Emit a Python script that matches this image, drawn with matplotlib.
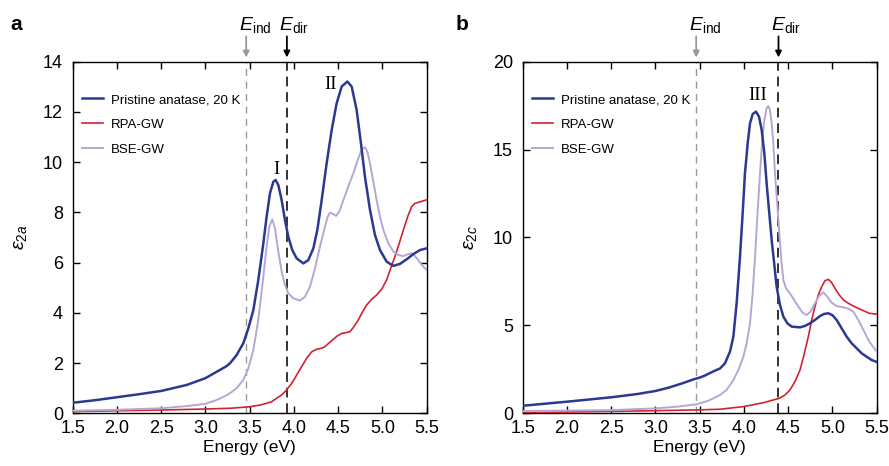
import matplotlib
matplotlib.use('Agg')
import matplotlib.pyplot as plt
import numpy as np

plt.rcParams['font.family'] = ['Liberation Sans', 'DejaVu Sans']
plt.rcParams['mathtext.fontset'] = 'custom'
plt.rcParams['mathtext.rm'] = 'Liberation Sans'
plt.rcParams['mathtext.it'] = 'Liberation Sans:italic'

# ---- panel a: eps_2a ----
a_pri_e = [1.5, 1.75, 2.0, 2.25, 2.5, 2.79, 3.0, 3.1, 3.23, 3.277, 3.352, 3.428, 3.484,
           3.541, 3.597, 3.654, 3.691, 3.729, 3.767, 3.793, 3.823, 3.861, 3.898, 3.936,
           3.981, 4.030, 4.106, 4.162, 4.219, 4.264, 4.313, 4.369, 4.426, 4.482, 4.539,
           4.603, 4.652, 4.708, 4.757, 4.802, 4.859, 4.915, 4.972, 5.047, 5.123, 5.198,
           5.273, 5.349, 5.424, 5.5]
a_pri_v = [0.42, 0.52, 0.64, 0.76, 0.89, 1.13, 1.40, 1.60, 1.86, 1.99, 2.32, 2.79, 3.38,
           4.11, 5.31, 6.77, 7.83, 8.76, 9.22, 9.29, 9.09, 8.49, 7.70, 7.03,
           6.50, 6.17, 5.97, 6.10, 6.57, 7.30, 8.49, 9.95, 11.28, 12.34, 13.01,
           13.21, 13.01, 12.08, 10.75, 9.42, 8.10, 7.10, 6.50, 6.04, 5.87, 5.95,
           6.13, 6.34, 6.50, 6.57]

a_rpa_e = [1.5, 2.5, 3.0, 3.277, 3.503, 3.616, 3.691, 3.748, 3.804, 3.861, 3.917, 3.974,
           4.030, 4.087, 4.143, 4.200, 4.256, 4.313, 4.350, 4.399, 4.445, 4.490, 4.539,
           4.588, 4.633, 4.678, 4.727, 4.772, 4.821, 4.878, 4.934, 4.991, 5.047, 5.092,
           5.141, 5.190, 5.236, 5.285, 5.330, 5.367, 5.424, 5.5]
a_rpa_v = [0.07, 0.13, 0.17, 0.20, 0.26, 0.33, 0.40, 0.46, 0.60, 0.73, 0.93, 1.19,
           1.52, 1.86, 2.19, 2.45, 2.55, 2.59, 2.65, 2.81, 2.95, 3.08, 3.18,
           3.21, 3.25, 3.45, 3.72, 4.02, 4.31, 4.54, 4.71, 4.94, 5.31, 5.77,
           6.24, 6.77, 7.30, 7.83, 8.23, 8.36, 8.42, 8.5]

a_bse_e = [1.5, 2.0, 2.5, 2.8, 3.0, 3.12, 3.23, 3.277, 3.352, 3.428, 3.484, 3.541, 3.597,
           3.654, 3.691, 3.721, 3.755, 3.785, 3.823, 3.861, 3.898, 3.936, 3.993, 4.068,
           4.124, 4.181, 4.237, 4.294, 4.350, 4.381, 4.407, 4.445, 4.475, 4.512, 4.558,
           4.614, 4.671, 4.727, 4.765, 4.802, 4.829, 4.859, 4.897, 4.934, 4.972, 5.010,
           5.066, 5.123, 5.179, 5.236, 5.292, 5.330, 5.367, 5.405, 5.443, 5.5]
a_bse_v = [0.1, 0.14, 0.2, 0.29, 0.38, 0.52, 0.70, 0.80, 1.00, 1.33, 1.79, 2.52, 3.72,
           5.44, 6.64, 7.43, 7.72, 7.37, 6.44, 5.64, 5.11, 4.78, 4.58, 4.49,
           4.64, 5.04, 5.77, 6.64, 7.43, 7.83, 7.99, 7.94, 7.86, 8.03, 8.49,
           9.03, 9.56, 10.15, 10.51, 10.59, 10.42, 9.95, 9.22, 8.49, 7.83, 7.30,
           6.77, 6.44, 6.30, 6.26, 6.34, 6.37, 6.26, 6.10, 5.91, 5.70]

# ---- panel b: eps_2c ----
b_pri_e = [1.5, 2.0, 2.5, 2.8, 3.0, 3.15, 3.3, 3.43, 3.5, 3.56, 3.62, 3.67, 3.729, 3.785,
           3.842, 3.880, 3.917, 3.955, 3.985, 4.011, 4.042, 4.068, 4.098, 4.136, 4.170,
           4.200, 4.230, 4.256, 4.286, 4.313, 4.343, 4.369, 4.407, 4.445, 4.490, 4.539,
           4.633, 4.689, 4.746, 4.802, 4.859, 4.904, 4.953, 5.002, 5.047, 5.104, 5.160,
           5.217, 5.273, 5.330, 5.386, 5.443, 5.5]
b_pri_v = [0.43, 0.66, 0.91, 1.10, 1.27, 1.46, 1.70, 1.93, 2.03, 2.15, 2.30, 2.42, 2.55,
           2.84, 3.51, 4.36, 6.26, 8.91, 11.37, 13.65, 15.36, 16.49, 17.02, 17.16, 16.87,
           16.12, 14.79, 13.08, 11.37, 9.86, 8.44, 7.20, 6.16, 5.50, 5.12, 4.93,
           4.89, 4.97, 5.12, 5.31, 5.53, 5.65, 5.69, 5.57, 5.31, 4.83, 4.36,
           3.98, 3.70, 3.41, 3.22, 3.03, 2.92]

b_rpa_e = [1.5, 3.0, 3.46, 3.729, 3.993, 4.219, 4.332, 4.399, 4.463, 4.520, 4.576, 4.633,
           4.678, 4.727, 4.765, 4.802, 4.840, 4.878, 4.915, 4.953, 4.991, 5.028, 5.077,
           5.123, 5.179, 5.236, 5.292, 5.349, 5.416, 5.5]
b_rpa_v = [0.03, 0.15, 0.19, 0.23, 0.38, 0.60, 0.76, 0.85, 1.04, 1.33, 1.80, 2.46,
           3.32, 4.36, 5.31, 6.07, 6.73, 7.20, 7.54, 7.62, 7.43, 7.11, 6.73,
           6.45, 6.26, 6.10, 5.97, 5.84, 5.69, 5.64]

b_bse_e = [1.5, 2.5, 3.0, 3.25, 3.46, 3.6, 3.729, 3.804, 3.880, 3.936, 3.993, 4.030, 4.068,
           4.098, 4.125, 4.151, 4.181, 4.207, 4.230, 4.256, 4.275, 4.294, 4.313, 4.332,
           4.350, 4.377, 4.399, 4.422, 4.445, 4.475, 4.520, 4.565, 4.614, 4.663, 4.708,
           4.753, 4.802, 4.848, 4.897, 4.942, 4.991, 5.047, 5.123, 5.179, 5.236, 5.292,
           5.349, 5.416, 5.5]
b_bse_v = [0.13, 0.18, 0.28, 0.38, 0.51, 0.72, 1.04, 1.33, 1.89, 2.46, 3.22, 3.98, 5.12,
           6.82, 8.91, 11.19, 13.65, 15.55, 16.68, 17.35, 17.48, 17.25, 16.49, 15.36,
           13.65, 11.85, 10.24, 8.72, 7.58, 7.11, 6.82, 6.45, 6.07, 5.72, 5.59,
           5.78, 6.26, 6.67, 6.88, 6.63, 6.29, 6.10, 6.03, 5.95, 5.78, 5.31,
           4.74, 4.07, 3.51]

e_ind = 3.46
e_dir_a = 3.92
e_dir_b = 4.39

c_pri = '#2b3990'
c_rpa = '#d1232f'
c_bse = '#b9a5d3'
labels = ['Pristine anatase, 20 K', 'RPA-GW', 'BSE-GW']

fig = plt.figure(figsize=(8.89, 4.66), dpi=100)
ax_a = fig.add_axes([0.0818, 0.1131, 0.3982, 0.7545])
ax_b = fig.add_axes([0.588, 0.1131, 0.3982, 0.7545])

def setup(ax, data, e_dir, ymax, ystep, ylab, peaks):
	(pe, pv), (re, rv), (be, bv) = data
	ax.plot(pe, pv, color=c_pri, lw=1.8, label=labels[0], zorder=4, solid_joinstyle='round')
	ax.plot(re, rv, color=c_rpa, lw=1.2, label=labels[1], zorder=3, solid_joinstyle='round')
	ax.plot(be, bv, color=c_bse, lw=1.4, label=labels[2], zorder=3, solid_joinstyle='round')
	ax.axvline(e_ind, color='#999999', lw=1.0, ls=(0, (5, 4)), zorder=1)
	ax.axvline(e_dir, color='#333333', lw=1.4, ls=(0, (5, 3)), zorder=1)
	ax.set_xlim(1.5, 5.5)
	ax.set_ylim(0, ymax)
	ax.set_xticks(np.arange(1.5, 5.51, 0.5))
	ax.set_xticklabels(['%.1f' % v for v in np.arange(1.5, 5.51, 0.5)])
	ax.set_yticks(np.arange(0, ymax + 0.1, ystep))
	ax.tick_params(direction='in', top=True, right=True, length=5, width=1,
	               labelsize=13, pad=5)
	ax.tick_params(axis='y', pad=7)
	for s in ax.spines.values():
		s.set_linewidth(1.0)
	ax.set_xlabel('Energy (eV)', fontsize=12.5, labelpad=2)
	ax.set_ylabel(ylab, fontsize=14, labelpad=10)
	ax.legend(loc='upper left', bbox_to_anchor=(0.0, 0.935), frameon=False, fontsize=9.5,
	          handlelength=1.6, handletextpad=0.6, labelspacing=0.95, borderaxespad=0.3)
	for txt, x, y in peaks:
		ax.text(x, y, txt, family='Liberation Serif', fontsize=13.5, ha='center', va='bottom')
	# band-gap arrows above the axes
	for e, col, lab, dx in [(e_ind, '#999999', 'ind', 0.1), (e_dir, 'black', 'dir', 0.08)]:
		ax.annotate('', xy=(e, 1.012), xytext=(e, 1.072), xycoords=('data', 'axes fraction'),
		            textcoords=('data', 'axes fraction'),
		            arrowprops=dict(arrowstyle='-|>', color=col, lw=1.3,
		                            mutation_scale=9, shrinkA=0, shrinkB=0),
		            annotation_clip=False)
		ax.text(e + dx, 1.076, r'$E_{\mathrm{%s}}$' % lab, transform=ax.get_xaxis_transform(),
		        ha='center', va='bottom', fontsize=14)

setup(ax_a, [(a_pri_e, a_pri_v), (a_rpa_e, a_rpa_v), (a_bse_e, a_bse_v)], e_dir_a, 14, 2,
      r'$\varepsilon_{2a}$', [('I', 3.80, 9.35), ('II', 4.41, 12.75)])
setup(ax_b, [(b_pri_e, b_pri_v), (b_rpa_e, b_rpa_v), (b_bse_e, b_bse_v)], e_dir_b, 20, 5,
      r'$\varepsilon_{2c}$', [('III', 4.16, 17.6)])

fig.text(0.012, 0.935, 'a', fontsize=15, fontweight='bold')
fig.text(0.513, 0.935, 'b', fontsize=15, fontweight='bold')

fig.savefig('out.png', dpi=100)
